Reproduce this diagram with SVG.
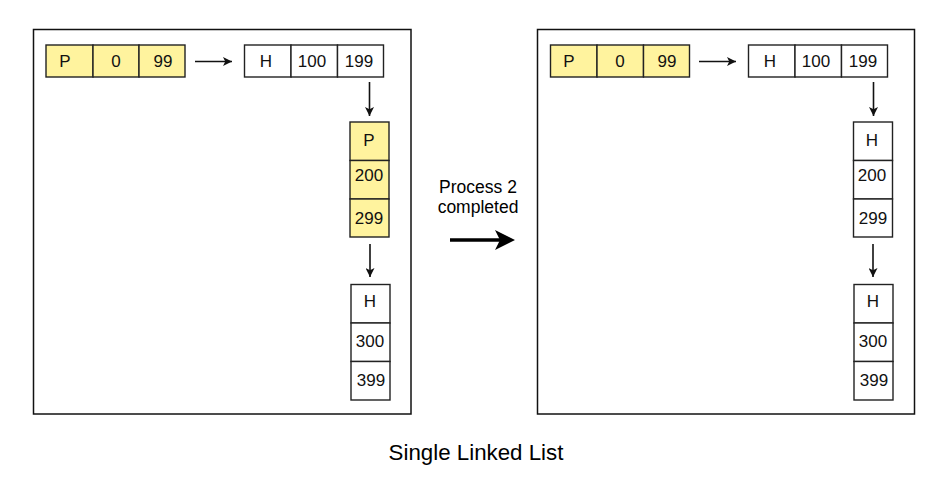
<svg xmlns="http://www.w3.org/2000/svg" width="948" height="491" viewBox="0 0 948 491">
<defs>
<marker id="ah" viewBox="0 0 10 10" refX="10" refY="5" markerWidth="9" markerHeight="9" markerUnits="userSpaceOnUse" orient="auto">
<path d="M0,0 L10,5 L0,10 L2.5,5 Z" fill="#111"/>
</marker>
<marker id="big" viewBox="0 0 10 10" refX="10" refY="5" markerWidth="20" markerHeight="20" markerUnits="userSpaceOnUse" orient="auto">
<path d="M0,0 L10,5 L0,10 L2.5,5 Z" fill="#000"/>
</marker>
<style>
.frame{fill:#fff;stroke:#111;stroke-width:1.5}
.y{fill:#fff39e;stroke:#222;stroke-width:1.4}
.w{fill:#fff;stroke:#222;stroke-width:1.4}
.t{font-family:"Liberation Sans",Arial,sans-serif;font-size:17px;fill:#111;text-anchor:middle}
.lbl{font-family:"Liberation Sans",Arial,sans-serif;font-size:17.5px;fill:#000;text-anchor:middle}
.title{font-family:"Liberation Sans",Arial,sans-serif;font-size:22.3px;fill:#000;text-anchor:middle}
.c{stroke:#111;stroke-width:1.6;fill:none;marker-end:url(#ah)}
</style>
</defs>
<rect width="948" height="491" fill="#fff"/>
<g id="frame-left"><rect class="frame" x="33.5" y="29.5" width="377.5" height="384.5"/></g>
<g id="frame-right"><rect class="frame" x="537.5" y="29.5" width="377" height="384.5"/></g>

<g id="L-node1">
<rect class="y" x="46" y="45" width="47" height="32"/>
<rect class="y" x="93" y="45" width="46" height="32"/>
<rect class="y" x="139" y="45" width="46" height="32"/>
<text class="t" x="65" y="67">P</text>
<text class="t" x="116" y="67">0</text>
<text class="t" x="163" y="67">99</text>
</g>
<g id="L-node2">
<rect class="w" x="244.5" y="45" width="46.5" height="32"/>
<rect class="w" x="291" y="45" width="46.5" height="32"/>
<rect class="w" x="337.5" y="45" width="46" height="32"/>
<text class="t" x="266" y="67">H</text>
<text class="t" x="312" y="67">100</text>
<text class="t" x="359" y="67">199</text>
</g>
<g id="L-node3">
<rect class="y" x="350" y="122" width="39" height="38.5"/>
<rect class="y" x="350" y="160.5" width="39" height="38.5"/>
<rect class="y" x="350" y="199" width="39" height="38"/>
<text class="t" x="369" y="146">P</text>
<text class="t" x="369" y="181">200</text>
<text class="t" x="369" y="224">299</text>
</g>
<g id="L-node4">
<rect class="w" x="351" y="284.5" width="39" height="38.5"/>
<rect class="w" x="351" y="323" width="39" height="38.5"/>
<rect class="w" x="351" y="361.5" width="39" height="38.5"/>
<text class="t" x="370" y="307">H</text>
<text class="t" x="370" y="347">300</text>
<text class="t" x="371" y="385.5">399</text>
</g>

<g id="R-node1">
<rect class="y" x="550.5" y="45" width="46.5" height="32"/>
<rect class="y" x="597" y="45" width="46.5" height="32"/>
<rect class="y" x="643.5" y="45" width="46" height="32"/>
<text class="t" x="569" y="67">P</text>
<text class="t" x="620" y="67">0</text>
<text class="t" x="667" y="67">99</text>
</g>
<g id="R-node2">
<rect class="w" x="748.5" y="45" width="46.5" height="32"/>
<rect class="w" x="795" y="45" width="46.5" height="32"/>
<rect class="w" x="841.5" y="45" width="46" height="32"/>
<text class="t" x="770" y="67">H</text>
<text class="t" x="816" y="67">100</text>
<text class="t" x="863" y="67">199</text>
</g>
<g id="R-node3">
<rect class="w" x="853.5" y="122" width="39" height="38.5"/>
<rect class="w" x="853.5" y="160.5" width="39" height="38.5"/>
<rect class="w" x="853.5" y="199" width="39" height="38"/>
<text class="t" x="872" y="146">H</text>
<text class="t" x="872" y="181">200</text>
<text class="t" x="873" y="224">299</text>
</g>
<g id="R-node4">
<rect class="w" x="854" y="284.5" width="39" height="38.5"/>
<rect class="w" x="854" y="323" width="39" height="38.5"/>
<rect class="w" x="854" y="361.5" width="39" height="38.5"/>
<text class="t" x="873" y="307">H</text>
<text class="t" x="873" y="347">300</text>
<text class="t" x="874" y="385.5">399</text>
</g>

<g id="connectors">
<path class="c" d="M195,61.5 H232"/>
<path class="c" d="M369.5,82 V116"/>
<path class="c" d="M370,244 V277"/>
<path class="c" d="M699,61.5 H736"/>
<path class="c" d="M873.5,82 V116"/>
<path class="c" d="M873,244 V277"/>
<path d="M450,240 H510" stroke="#000" stroke-width="3.5" fill="none"/>
<path d="M495,230 L515,240 L495,250 L500,240 Z" fill="#000"/>
</g>

<g id="labels">
<text class="lbl" x="478" y="192.5">Process 2</text>
<text class="lbl" x="478" y="213">completed</text>
<text class="title" x="476" y="460">Single Linked List</text>
</g>
</svg>
